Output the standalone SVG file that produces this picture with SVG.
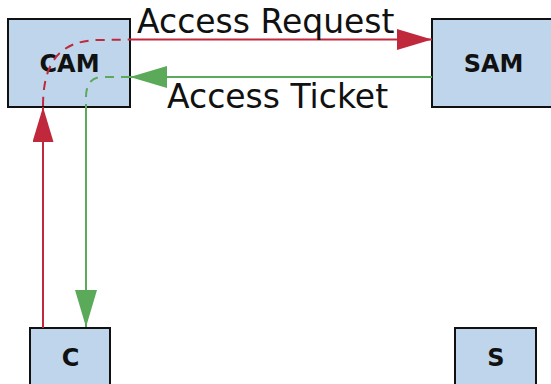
<svg xmlns="http://www.w3.org/2000/svg" width="551" height="384" viewBox="0 0 551 384">
<style>
.box{fill:#bfd5eb;stroke:#111;stroke-width:2}
.lbl{font-family:"DejaVu Sans",sans-serif;font-weight:bold;font-size:24px;fill:#111;text-anchor:middle}
.elbl{font-family:"DejaVu Sans",sans-serif;font-size:33px;fill:#111}
.red{fill:none;stroke:#c0283c;stroke-width:2}
.green{fill:none;stroke:#5aaa5a;stroke-width:2}
.dash{stroke-dasharray:9 7}
</style>
<defs>
<marker id="ar" viewBox="0 0 35 21" refX="35" refY="10.5" markerWidth="35" markerHeight="21" markerUnits="userSpaceOnUse" orient="auto"><path d="M0,0 L35,10.5 L0,21 z" fill="#c0283c"/></marker>
<marker id="ag" viewBox="0 0 37 22" refX="37" refY="11" markerWidth="37" markerHeight="22" markerUnits="userSpaceOnUse" orient="auto"><path d="M0,0 L37,11 L0,22 z" fill="#5aaa5a"/></marker>
</defs>
<g id="CAM"><rect class="box" x="8" y="19" width="122" height="88"/><text class="lbl" x="69.5" y="72">CAM</text></g>
<g id="SAM"><rect class="box" x="432" y="19" width="130" height="88"/><text class="lbl" x="493.5" y="72">SAM</text></g>
<g id="C"><rect class="box" x="30" y="328" width="80" height="70"/><text class="lbl" x="70.5" y="365.5">C</text></g>
<g id="S"><rect class="box" x="455" y="328" width="81" height="70"/><text class="lbl" x="496" y="365.5">S</text></g>
<g id="connectors">
<path class="red" d="M43,328 L43,107" marker-end="url(#ar)"/>
<path class="red dash" d="M43,106 C43,62 60,40 100,40 L130,39.5"/>
<path class="red" d="M130,39.5 L432,39.5" marker-end="url(#ar)"/>
<text class="elbl" x="137" y="33">Access Request</text>
<path class="green" d="M432,77 L130,77" marker-end="url(#ag)"/>
<path class="green dash" d="M130,77 L102,77 C91,77 86,85 86,97 L86,106"/>
<path class="green" d="M86,106 L86,327" marker-end="url(#ag)"/>
<text class="elbl" x="167" y="108">Access Ticket</text>
</g>
</svg>
